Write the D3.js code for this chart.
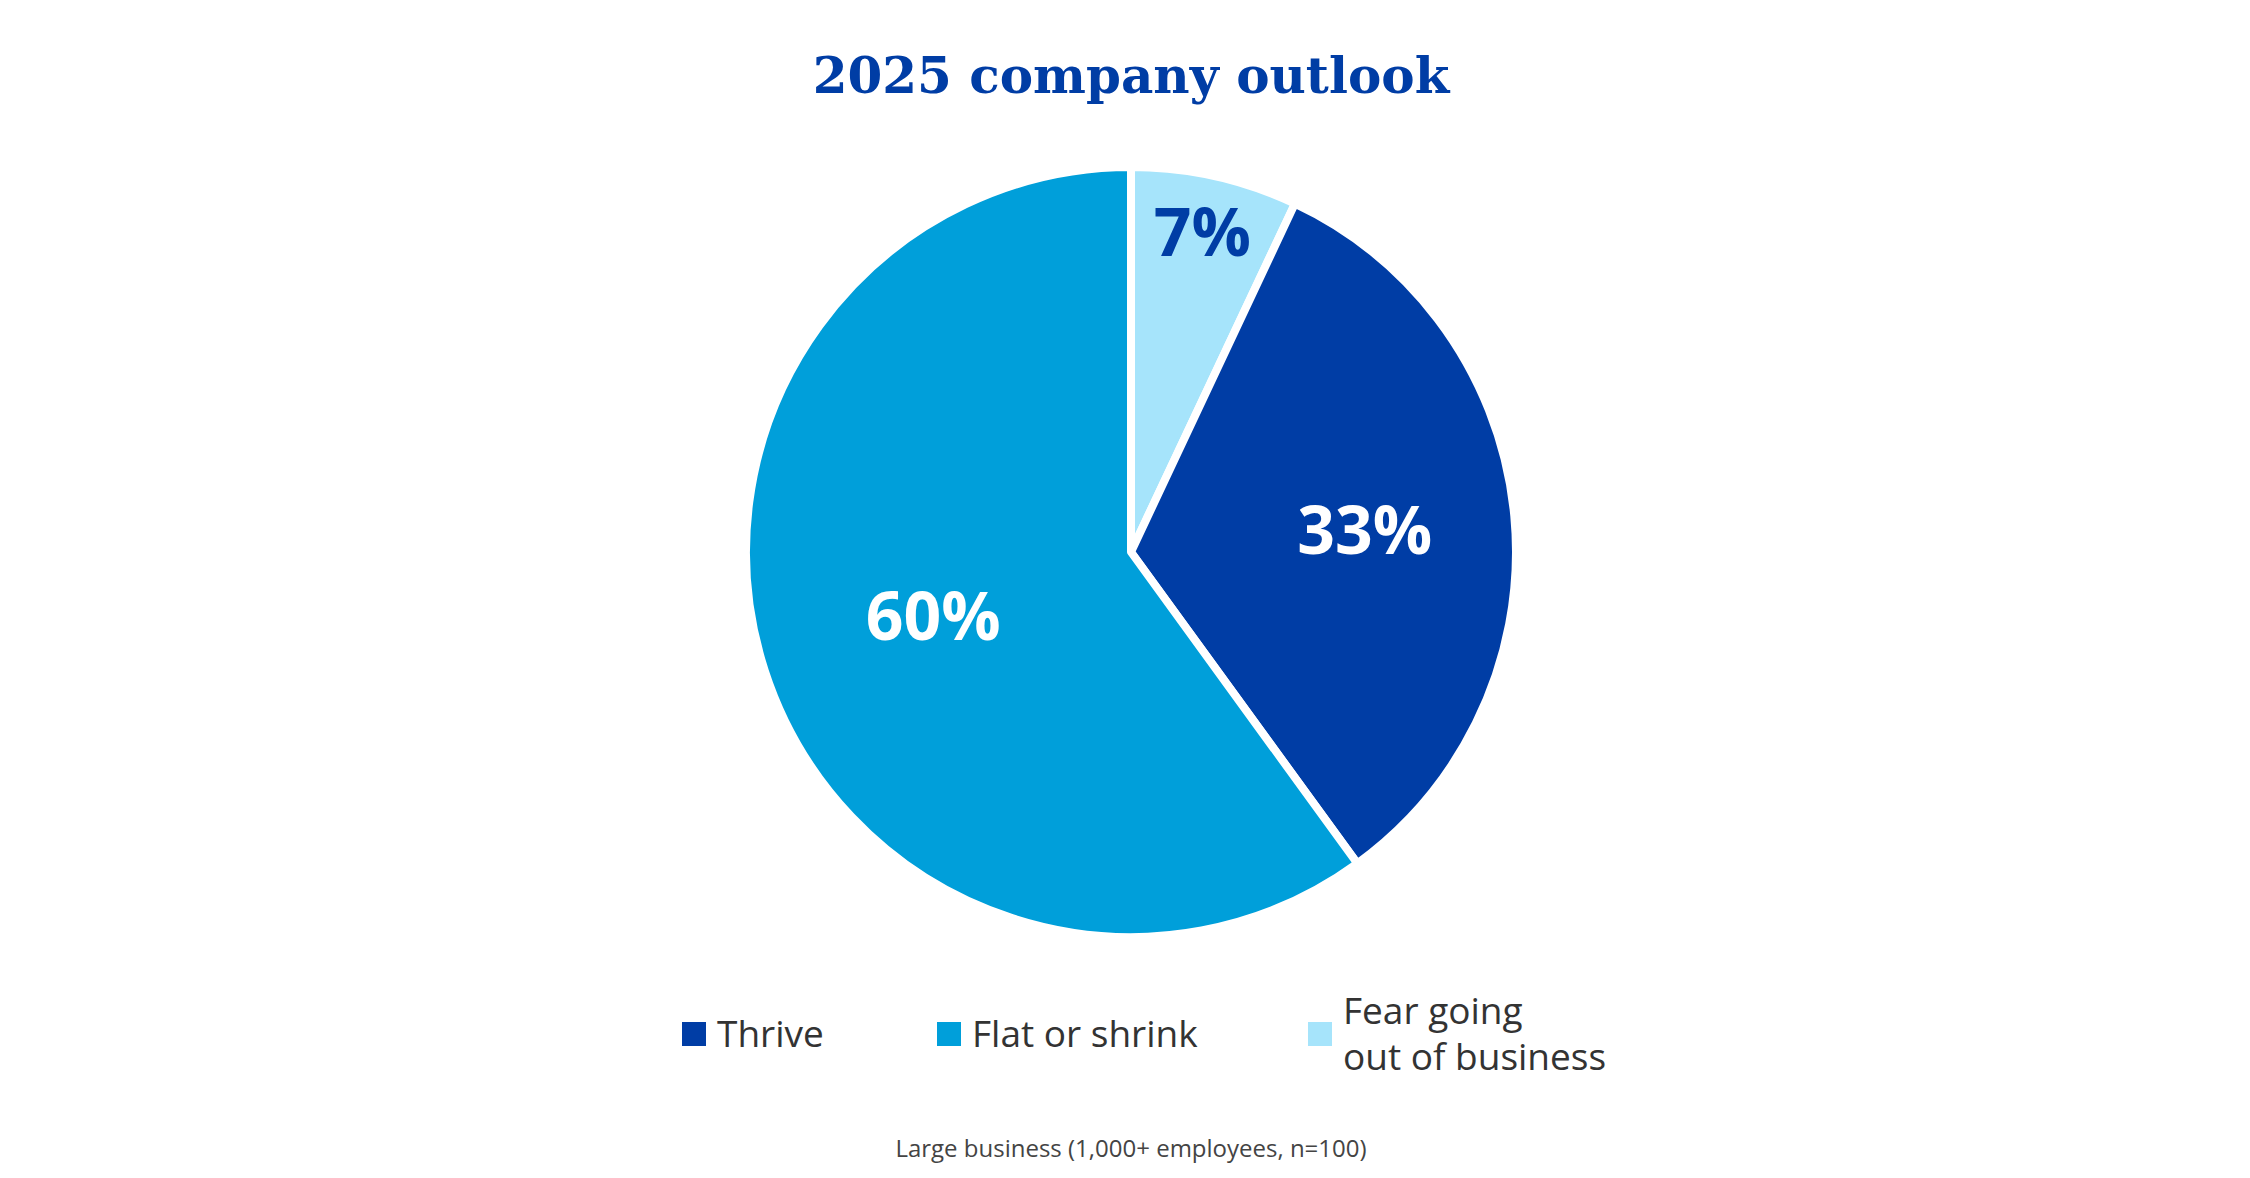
<!DOCTYPE html>
<html><head><meta charset="utf-8">
<script src="https://cdn.jsdelivr.net/npm/d3@7"></script>
<style>body{margin:0;background:#fff}</style>
</head><body>
<svg id="chart" width="2250" height="1178"></svg>
<script>
// data, clockwise from 12 o'clock
var categories = ["Fear going out of business", "Thrive", "Flat or shrink"];
var values = [7, 33, 60];
var valueLabels = ["7%", "33%", "60%"];
var colors = ["#A6E4FB", "#003DA5", "#009FDA"];
var labelColors = ["#003DA5", "#fff", "#fff"];
var labelRadius = [0.85, 0.61, 0.54];
var legendOrder = [1, 2, 0];
var legendLines = [["Thrive"], ["Flat or shrink"], ["Fear going", "out of business"]];

var svg = d3.select("#chart");
var cx = 1131, cy = 552, R = 385;

svg.append("text").attr("x", 1131).attr("y", 93).attr("text-anchor", "middle")
	.attr("font-family", "'DejaVu Serif'").attr("font-weight", "bold").attr("font-size", 50)
	.attr("fill", "#003DA5").text("2025 company outlook");

var pie = d3.pie().sort(null).value(function(d){ return d; });
var arcs = pie(values);
var arc = d3.arc().innerRadius(0).outerRadius(R);

var g = svg.append("g").attr("transform", "translate(" + cx + "," + cy + ")");
g.selectAll("path").data(arcs).enter().append("path")
	.attr("d", arc).attr("fill", function(d, i){ return colors[i]; })
	.attr("stroke", "#fff").attr("stroke-width", 8).attr("stroke-linejoin", "round");

g.selectAll("text").data(arcs).enter().append("text")
	.attr("transform", function(d, i){
		var a = (d.startAngle + d.endAngle) / 2, r = R * labelRadius[i];
		return "translate(" + (Math.sin(a) * r) + "," + (-Math.cos(a) * r) + ")";
	})
	.attr("text-anchor", "middle").attr("dy", "0.36em")
	.attr("font-family", "'Open Sans'").attr("font-weight", "bold").attr("font-size", 66)
	.attr("fill", function(d, i){ return labelColors[i]; })
	.text(function(d, i){ return valueLabels[i]; });

var legendX = [682, 937, 1308];
legendOrder.forEach(function(k, j){
	var lg = svg.append("g").attr("transform", "translate(" + legendX[j] + ",1034)");
	lg.append("rect").attr("x", 0).attr("y", -12).attr("width", 24).attr("height", 24).attr("fill", colors[k]);
	var lines = legendLines[j];
	lines.forEach(function(t, li){
		lg.append("text").attr("x", 35)
			.attr("y", (li - (lines.length - 1) / 2) * 46).attr("dy", "0.35em")
			.attr("font-family", "'Open Sans'").attr("font-size", 37).attr("fill", "#333").text(t);
	});
});

svg.append("text").attr("x", 1131).attr("y", 1157).attr("text-anchor", "middle")
	.attr("font-family", "'Open Sans'").attr("font-size", 24).attr("fill", "#444")
	.text("Large business (1,000+ employees, n=100)");
</script>
</body></html>
